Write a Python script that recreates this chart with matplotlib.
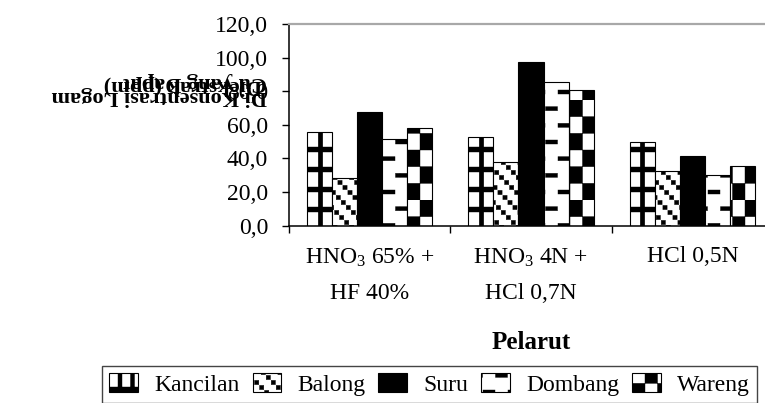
import warnings
import numpy as np
import matplotlib
matplotlib.use("Agg")
import matplotlib.pyplot as plt
import matplotlib.hatch as mhatch
from matplotlib.path import Path
from matplotlib.patches import Patch

warnings.filterwarnings("ignore")

categories = ["HNO$_3$ 65% +\nHF 40%", "HNO$_3$ 4N +\nHCl 0,7N", "HCl 0,5N"]
series_names = ["Kancilan", "Balong", "Suru", "Dombang", "Wareng"]
kancilan = [55.5, 52.5, 49.6]
balong = [28.1, 37.9, 32.7]
suru = [67.8, 97.3, 41.4]
dombang = [51.5, 85.3, 30.1]
wareng = [58.3, 80.7, 35.7]
yticks = [0, 20, 40, 60, 80, 100, 120]

# --- Excel-like fill patterns, built as filled blocks on the 100px hatch tile
X0 = 7.5  # shift so the pattern columns line up with the bar edges


def rect(x, y, w, h):
    return [(x, y), (x + w, y), (x + w, y + h), (x, y + h), (x, y)]


def shifted(blocks):
    out = []
    for x, y, w, h in blocks:
        x = (x + X0) % 100
        if x + w > 100:
            out.append((x, y, 100 - x, h))
            out.append((0, y, x + w - 100, h))
        else:
            out.append((x, y, w, h))
    return out


class BlockHatch:
    char = None

    def __init__(self, hatch, density):
        self.blocks = shifted(self.make_blocks()) if self.char in hatch else []
        self.num_vertices = 5 * len(self.blocks)

    def set_vertices_and_codes(self, vertices, codes):
        pts = []
        for b in self.blocks:
            pts.extend(rect(*b))
        vertices[:] = np.array(pts) / 100.0
        codes[:] = np.tile([Path.MOVETO, Path.LINETO, Path.LINETO,
                            Path.LINETO, Path.CLOSEPOLY], len(self.blocks))


class RowHatch(BlockHatch):
    char = "e"

    def make_blocks(self):
        return [(0, 20 * j + 8, 100, 5) for j in range(5)]


class GridHatch(BlockHatch):
    char = "a"

    def make_blocks(self):
        b = [(0, 20 * j + 8, 100, 5) for j in range(5)]
        b += [(12.5 * i - 2, 0, 4, 100) for i in range(8)]
        return b


class DotDiagHatch(BlockHatch):
    char = "b"

    def make_blocks(self):
        b = []
        for s in range(20):
            t = s * 5
            for k in range(6):
                b.append((t + 100 * k / 6 + 0.4, 95 - t + 0.4, 4.2, 4.2))
        return b


class DashHatch(BlockHatch):
    char = "c"

    def make_blocks(self):
        b = []
        for j in range(6):
            for i in range(4):
                b.append((25 * i + (12.5 if j % 2 else 0) + 0.5, j * 100 / 6 + 6, 12, 4))
        return b


class CheckHatch(BlockHatch):
    char = "d"

    def make_blocks(self):
        b = []
        for j in range(6):
            for i in range(8):
                if (i + j) % 2 == 0:
                    b.append((12.5 * i, j * 100 / 6, 12.5, 100 / 6))
        return b


mhatch._hatch_types.extend([RowHatch, GridHatch, DotDiagHatch, DashHatch, CheckHatch])

plt.rcParams["font.family"] = ["Liberation Serif", "DejaVu Serif"]
plt.rcParams["mathtext.fontset"] = "custom"
plt.rcParams["mathtext.rm"] = "Liberation Serif"
plt.rcParams["mathtext.default"] = "rm"
plt.rcParams["hatch.linewidth"] = 0.3

fig = plt.figure(figsize=(7.65, 4.03), dpi=100)
ax = fig.add_axes([289 / 765, 177.4 / 403, 484 / 765, 201.6 / 403])

values = [kancilan, balong, suru, dombang, wareng]
hatches = ["e", "b", None, "c", "d"]
legend_hatches = ["a", "b", None, "c", "d"]
faces = ["white", "white", "black", "white", "white"]
x = np.arange(len(categories))
w = 0.155
for k, (name, vals) in enumerate(zip(series_names, values)):
    ax.bar(x + (k - 2) * w, vals, w, facecolor=faces[k], edgecolor="black",
           linewidth=0.8, hatch=hatches[k], label=name)
# Kancilan's pattern has one thick upright stroke down the middle of each bar
ax.vlines(x - 2 * w, 0, kancilan, color="black", linewidth=3.4, zorder=3)

ax.set_xlim(-0.5, 2.5)
ax.set_ylim(0, 120)
ax.set_yticks(yticks, [f"{v:.1f}".replace(".", ",") for v in yticks])
ax.set_xticks(x, categories)
ax.set_xticks([-0.5, 0.5, 1.5, 2.5], minor=True)
ax.tick_params(axis="x", which="major", length=0, pad=15, labelsize=17)
ax.tick_params(axis="x", which="minor", length=5, width=1, direction="out")
ax.tick_params(axis="y", length=5, width=1, direction="out", pad=10, labelsize=17)
for lbl in ax.get_xticklabels():
    lbl.set_linespacing(1.9)

ax.spines["right"].set_visible(False)
ax.spines["top"].set_color("#a8a8a8")
ax.spines["top"].set_linewidth(1.6)
ax.spines["left"].set_linewidth(1.1)
ax.spines["bottom"].set_linewidth(1.1)

ax.set_xlabel("Pelarut", fontsize=18, fontweight="bold")
ax.xaxis.set_label_coords(0.5, -0.582)
ax.xaxis.label.set_va("center")

# the y label is upside down and its lines overlap in the source chart
ylab = dict(rotation=180, ha="right", va="center", fontsize=16, fontweight="bold")
fig.text(267 / 765, 1 - 96 / 403, "Di Konsentrasi Logam", **ylab)
fig.text(267 / 765, 1 - 82 / 403, "Cu yang Dapat", **ylab)
fig.text(262 / 765, 1 - 85 / 403, "Diekstrak (ppm)", **ylab)

handles = [Patch(facecolor=faces[k], edgecolor="black", linewidth=0.8,
                 hatch=legend_hatches[k], label=series_names[k])
           for k in range(len(series_names))]
fig.legend(handles=handles, loc="upper right",
           bbox_to_anchor=(757 / 765, 1 - 366 / 403),
           ncol=5, fontsize=17, frameon=True, fancybox=False,
           edgecolor="#444444", framealpha=1, borderpad=0.3,
           handlelength=1.2, handleheight=0.85, handletextpad=0.7,
           columnspacing=0.55, borderaxespad=0)

fig.savefig("out.png", dpi=100)
